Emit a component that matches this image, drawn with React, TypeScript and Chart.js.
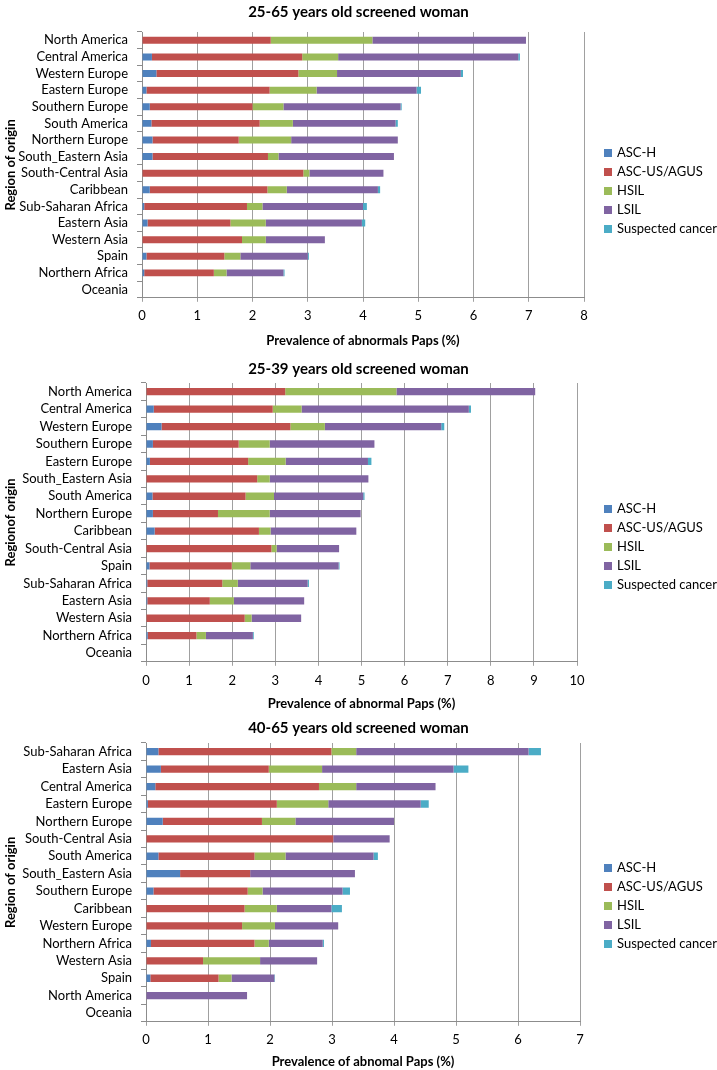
import React, { useEffect, useRef } from 'react';
import { Chart, registerables } from 'chart.js';

Chart.register(...registerables);

const FONT = 'Lato, "Open Sans", sans-serif';

// ---- shared series ----
const seriesNames = ['ASC-H', 'ASC-US/AGUS', 'HSIL', 'LSIL', 'Suspected cancer'];
const seriesColors = ['#4F81BD', '#C0504D', '#9BBB59', '#8064A2', '#4BACC6'];

// ---- chart 1: 25-65 years ----
const title1 = '25-65 years old screened woman';
const xTitle1 = 'Prevalence of abnormals Paps (%)';
const yTitle1 = 'Region of origin';
const xMax1 = 8;
const regions1 = ['North America', 'Central America', 'Western Europe', 'Eastern Europe', 'Southern Europe', 'South America', 'Northern Europe', 'South_Eastern Asia', 'South-Central Asia', 'Caribbean', 'Sub-Saharan Africa', 'Eastern Asia', 'Western Asia', 'Spain', 'Northern Africa', 'Oceania'];
const ascH1 = [0, 0.18, 0.26, 0.08, 0.14, 0.17, 0.19, 0.19, 0, 0.14, 0.04, 0.1, 0, 0.08, 0.04, 0];
const ascus1 = [2.33, 2.72, 2.57, 2.23, 1.86, 1.96, 1.56, 2.09, 2.92, 2.13, 1.86, 1.5, 1.81, 1.41, 1.26, 0];
const hsil1 = [1.84, 0.65, 0.7, 0.85, 0.56, 0.6, 0.95, 0.19, 0.11, 0.35, 0.28, 0.64, 0.43, 0.29, 0.23, 0];
const lsil1 = [2.78, 3.26, 2.24, 1.81, 2.12, 1.86, 1.93, 2.09, 1.34, 1.65, 1.82, 1.74, 1.07, 1.22, 1.03, 0];
const cancer1 = [0, 0.03, 0.04, 0.08, 0.02, 0.04, 0, 0, 0, 0.04, 0.07, 0.06, 0, 0.02, 0.02, 0];

// ---- chart 2: 25-39 years ----
const title2 = '25-39 years old screened woman';
const xTitle2 = 'Prevalence of abnormal Paps (%)';
const yTitle2 = 'Regionof origin';
const xMax2 = 10;
const regions2 = ['North America', 'Central America', 'Western Europe', 'Southern Europe', 'Eastern Europe', 'South_Eastern Asia', 'South America', 'Northern Europe', 'Caribbean', 'South-Central Asia', 'Spain', 'Sub-Saharan Africa', 'Eastern Asia', 'Western Asia', 'Northern Africa', 'Oceania'];
const ascH2 = [0, 0.18, 0.36, 0.16, 0.09, 0, 0.15, 0.16, 0.2, 0, 0.08, 0.03, 0.03, 0, 0.04, 0];
const ascus2 = [3.23, 2.76, 2.99, 1.99, 2.28, 2.58, 2.16, 1.51, 2.42, 2.91, 1.91, 1.74, 1.45, 2.29, 1.13, 0];
const hsil2 = [2.58, 0.67, 0.8, 0.72, 0.87, 0.29, 0.66, 1.2, 0.27, 0.12, 0.43, 0.36, 0.56, 0.16, 0.22, 0];
const lsil2 = [3.22, 3.88, 2.7, 2.43, 1.91, 2.29, 2.07, 2.11, 1.99, 1.45, 2.05, 1.62, 1.63, 1.15, 1.09, 0];
const cancer2 = [0, 0.05, 0.07, 0, 0.08, 0, 0.03, 0, 0, 0, 0.02, 0.03, 0, 0, 0.02, 0];

// ---- chart 3: 40-65 years ----
const title3 = '40-65 years old screened woman';
const xTitle3 = 'Prevalence of abnomal Paps (%)';
const yTitle3 = 'Region of origin';
const xMax3 = 7;
const regions3 = ['Sub-Saharan Africa', 'Eastern Asia', 'Central America', 'Eastern Europe', 'Northern Europe', 'South-Central Asia', 'South America', 'South_Eastern Asia', 'Southern Europe', 'Caribbean', 'Western Europe', 'Northern Africa', 'Western Asia', 'Spain', 'North America', 'Oceania'];
const ascH3 = [0.2, 0.24, 0.15, 0.03, 0.27, 0, 0.2, 0.55, 0.12, 0, 0, 0.08, 0, 0.07, 0, 0];
const ascus3 = [2.79, 1.74, 2.64, 2.08, 1.6, 3.02, 1.55, 1.13, 1.52, 1.59, 1.55, 1.67, 0.92, 1.1, 0, 0];
const hsil3 = [0.4, 0.86, 0.6, 0.83, 0.54, 0, 0.5, 0, 0.24, 0.52, 0.53, 0.23, 0.92, 0.21, 0, 0];
const lsil3 = [2.78, 2.12, 1.28, 1.49, 1.59, 0.91, 1.42, 1.69, 1.29, 0.88, 1.02, 0.87, 0.92, 0.69, 1.63, 0];
const cancer3 = [0.2, 0.24, 0, 0.13, 0, 0, 0.07, 0, 0.12, 0.17, 0, 0.02, 0, 0.01, 0, 0];

type Spec = {
  id: string;
  top: number;
  height: number;
  title: string;
  xTitle: string;
  yTitle: string;
  xMax: number;
  regions: string[];
  series: number[][];
  axisX: number;
  plotRight: number;
  titlePad: { top: number; bottom: number };
  tickPad: number;
  xTitlePad: { top: number; bottom: number };
  legendCenter: number;
};

const specs: Spec[] = [
  {
    id: 'c1', top: 0, height: 352, title: title1, xTitle: xTitle1, yTitle: yTitle1, xMax: xMax1,
    regions: regions1, series: [ascH1, ascus1, hsil1, lsil1, cancer1],
    axisX: 142, plotRight: 584, titlePad: { top: 3.4, bottom: 10.6 }, tickPad: 6.2,
    xTitlePad: { top: 3.4, bottom: 3.2 }, legendCenter: 191,
  },
  {
    id: 'c2', top: 352, height: 360, title: title2, xTitle: xTitle2, yTitle: yTitle2, xMax: xMax2,
    regions: regions2, series: [ascH2, ascus2, hsil2, lsil2, cancer2],
    axisX: 146, plotRight: 577, titlePad: { top: 8, bottom: 5 }, tickPad: 7.2,
    xTitlePad: { top: 0.6, bottom: 0 }, legendCenter: 195,
  },
  {
    id: 'c3', top: 712, height: 358, title: title3, xTitle: xTitle3, yTitle: yTitle3, xMax: xMax3,
    regions: regions3, series: [ascH3, ascus3, hsil3, lsil3, cancer3],
    axisX: 146, plotRight: 580, titlePad: { top: 7, bottom: 6 }, tickPad: 6.2,
    xTitlePad: { top: 0, bottom: 0.6 }, legendCenter: 194,
  },
];

const sideLegend = {
  id: 'sideLegend',
  afterDraw(chart: any, _args: any, opts: any) {
    const ctx = chart.ctx;
    const items = chart.data.datasets;
    const n = items.length;
    ctx.save();
    ctx.font = `13px ${FONT}`;
    ctx.textBaseline = 'middle';
    ctx.textAlign = 'left';
    items.forEach((ds: any, i: number) => {
      const cy = opts.centerY + (i - (n - 1) / 2) * opts.spacing;
      ctx.fillStyle = ds.backgroundColor;
      ctx.fillRect(opts.x, cy - opts.box / 2, opts.box, opts.box);
      ctx.fillStyle = '#000';
      ctx.fillText(ds.label, opts.x + opts.box + opts.gap, cy);
    });
    ctx.restore();
  },
};

function Panel({ spec }: { spec: Spec }) {
  const ref = useRef<HTMLCanvasElement | null>(null);
  useEffect(() => {
    if (!ref.current) return;
    const chart = new Chart(ref.current, {
      type: 'bar',
      data: {
        labels: spec.regions,
        datasets: spec.series.map((vals, i) => ({
          label: seriesNames[i],
          data: vals,
          backgroundColor: seriesColors[i],
          borderWidth: 0,
          categoryPercentage: 0.5,
          barPercentage: 0.84,
        })),
      },
      options: {
        indexAxis: 'y',
        animation: false,
        responsive: false,
        maintainAspectRatio: false,
        layout: { padding: 0 },
        plugins: {
          legend: { display: false },
          tooltip: { enabled: false },
          title: {
            display: true,
            text: spec.title,
            color: '#000',
            font: { family: FONT, size: 15, weight: 'bold', lineHeight: 1.2 },
            padding: spec.titlePad,
          },
          sideLegend: { x: 604, centerY: spec.legendCenter, spacing: 19, box: 8, gap: 5 },
        } as any,
        scales: {
          x: {
            type: 'linear',
            stacked: true,
            min: 0,
            max: spec.xMax,
            ticks: { stepSize: 1, color: '#000', font: { family: FONT, size: 13 }, padding: spec.tickPad },
            grid: { color: '#a0a0a0', tickLength: 4, drawTicks: true },
            border: { display: true, color: '#8c8c8c' },
            title: {
              display: true,
              text: spec.xTitle,
              color: '#000',
              font: { family: FONT, size: 13, weight: 'bold', lineHeight: 1.2 },
              padding: spec.xTitlePad,
            },
          },
          y: {
            type: 'category',
            stacked: true,
            ticks: { color: '#000', font: { family: FONT, size: 13 }, padding: 9, autoSkip: false },
            grid: { drawOnChartArea: false, drawTicks: true, tickLength: 5, color: '#8c8c8c', offset: true },
            border: { display: true, color: '#8c8c8c' },
            title: {
              display: true,
              text: spec.yTitle,
              color: '#000',
              font: { family: FONT, size: 13, weight: 'bold', lineHeight: 1.2 },
              padding: { top: 3, bottom: 0 },
            },
            afterFit: (s: any) => {
              s.width = spec.axisX;
            },
          },
          yR: {
            type: 'category',
            position: 'right',
            display: true,
            ticks: { display: false },
            grid: { display: false },
            border: { display: false },
            afterFit: (s: any) => {
              s.width = 717 - spec.plotRight;
            },
          },
        } as any,
      },
      plugins: [sideLegend],
    } as any);
    return () => chart.destroy();
  }, [spec]);
  return (
    <canvas
      ref={ref}
      width={717}
      height={spec.height}
      style={{ position: 'absolute', left: 0, top: spec.top, width: 717, height: spec.height }}
    />
  );
}

export default function App() {
  return (
    <div style={{ position: 'absolute', left: 0, top: 0, width: 717, height: 1070, background: '#fff', overflow: 'hidden' }}>
      {specs.map((s) => (
        <Panel key={s.id} spec={s} />
      ))}
    </div>
  );
}
